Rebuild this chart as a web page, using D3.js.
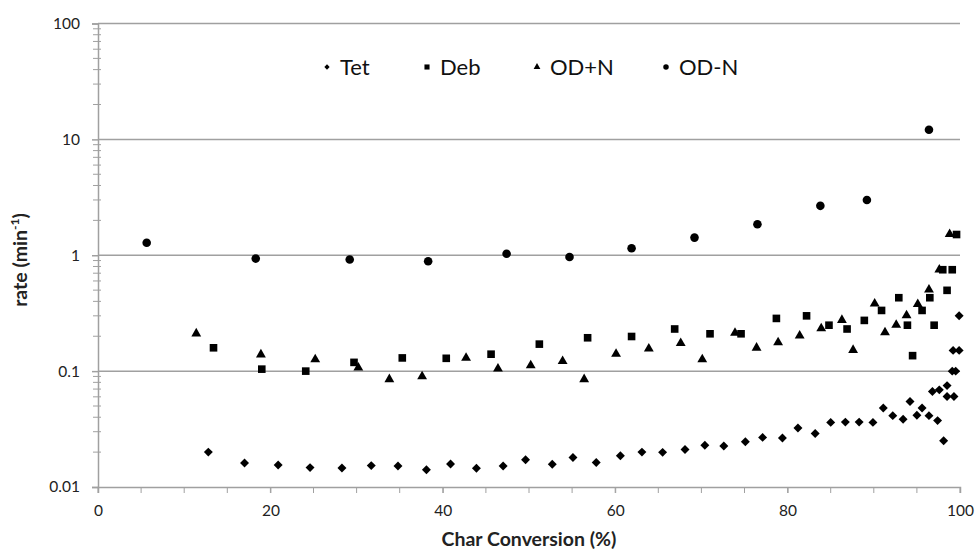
<!DOCTYPE html>
<html><head><meta charset="utf-8">
<script src="https://cdn.jsdelivr.net/npm/d3@7"></script>
<style>body{margin:0;background:#fff;}svg{display:block;font-family:Lato,"Open Sans",sans-serif;}</style>
</head><body><svg id="c" width="976" height="551"></svg>
<script>
const seriesNames = ["Tet","Deb","OD+N","OD-N"];
const tetX = [12.8,17.0,20.9,24.6,28.3,31.7,34.8,38.1,40.9,43.9,47.0,49.6,52.7,55.1,57.8,60.6,63.1,65.5,68.1,70.4,72.6,75.1,77.1,79.4,81.2,83.2,85.0,86.7,88.3,89.9,91.1,92.2,93.4,94.2,95.0,95.6,96.4,96.8,97.4,97.6,98.1,98.5,98.5,99.3,99.1,99.5,99.2,99.9,99.9];
const tetY = [0.020,0.0161,0.0155,0.0147,0.0146,0.0153,0.0152,0.0141,0.0158,0.0145,0.0152,0.0172,0.0157,0.018,0.0163,0.0186,0.020,0.0199,0.0211,0.0229,0.0226,0.0246,0.0268,0.0265,0.0323,0.029,0.0361,0.0363,0.0363,0.0361,0.0481,0.0413,0.0384,0.0546,0.0416,0.0481,0.0413,0.0668,0.0374,0.0689,0.0251,0.075,0.0603,0.0603,0.1,0.1,0.151,0.151,0.30];
const debX = [13.4,19.0,24.1,29.7,35.3,40.4,45.6,51.2,56.8,61.9,66.9,71.0,74.6,78.7,82.2,84.8,86.9,88.9,90.9,92.9,93.9,94.5,95.6,96.5,97.0,98.0,98.5,99.1,99.6];
const debY = [0.159,0.104,0.100,0.119,0.130,0.129,0.140,0.171,0.194,0.199,0.231,0.210,0.210,0.285,0.300,0.249,0.231,0.274,0.334,0.43,0.249,0.136,0.334,0.43,0.249,0.75,0.498,0.75,1.51];
const odpX = [11.4,18.9,25.2,30.2,33.8,37.6,42.7,46.4,50.2,53.9,56.4,60.1,63.9,67.6,70.1,73.9,76.4,78.9,81.4,83.9,86.3,87.6,90.1,91.3,92.6,93.8,95.1,96.4,97.6,98.8];
const odpY = [0.211,0.139,0.126,0.107,0.085,0.090,0.130,0.105,0.112,0.122,0.085,0.141,0.156,0.174,0.126,0.214,0.159,0.177,0.202,0.234,0.276,0.152,0.382,0.216,0.251,0.303,0.379,0.505,0.75,1.52];
const odmX = [5.65,18.3,29.2,38.3,47.4,54.7,61.9,69.2,76.5,83.8,89.2,96.4];
const odmY = [1.28,0.936,0.92,0.887,1.03,0.967,1.15,1.42,1.85,2.67,3.0,12.1];
const xTicks = [0,20,40,60,80,100];
const yTicks = [0.01,0.1,1,10,100];
const yTickLabels = ["0.01","0.1","1","10","100"];

const svg = d3.select("#c");
const x = d3.scaleLinear().domain([0,100]).range([98,960]);
const y = d3.scaleLog().domain([0.01,100]).range([487,23.5]);
const grid = "#a0a0a0";
const FONT = "Lato,'Open Sans',sans-serif";

// gridlines
svg.append("g").selectAll("line").data(yTicks.slice(1)).join("line")
  .attr("x1",x(0)).attr("x2",x(100)).attr("y1",d=>y(d)).attr("y2",d=>y(d))
  .attr("stroke",grid).attr("stroke-width",1.5);

// y minor ticks
const minor = [];
for (let e=-2;e<2;e++) for (let m=2;m<10;m++) minor.push(m*Math.pow(10,e));
svg.append("g").selectAll("line").data(minor).join("line")
  .attr("x1",x(0)-5).attr("x2",x(0)+3).attr("y1",d=>y(d)).attr("y2",d=>y(d))
  .attr("stroke",grid).attr("stroke-width",1);

// y axis
const yAxis = d3.axisLeft(y).tickValues(yTicks).tickFormat((d,i)=>yTickLabels[i]).tickSize(6).tickPadding(12);
const gy = svg.append("g").attr("transform",`translate(${x(0)},0)`).call(yAxis);
gy.select(".domain").attr("stroke",grid).attr("stroke-width",1.5);
gy.selectAll(".tick line").attr("stroke",grid).attr("stroke-width",1.5);
gy.selectAll("text").attr("font-size",15.5).attr("fill","#222").attr("font-family",FONT);

// x minor ticks
svg.append("g").selectAll("line").data(d3.range(0,101,5)).join("line")
  .attr("x1",d=>x(d)).attr("x2",d=>x(d)).attr("y1",y(0.01)).attr("y2",y(0.01)+6)
  .attr("stroke",grid).attr("stroke-width",1);
// x axis
const xAxis = d3.axisBottom(x).tickValues(xTicks).tickSize(6).tickPadding(12);
const gx = svg.append("g").attr("transform",`translate(0,${y(0.01)})`).call(xAxis);
gx.select(".domain").attr("stroke",grid).attr("stroke-width",1.5);
gx.selectAll(".tick line").attr("stroke",grid).attr("stroke-width",1);
gx.selectAll("text").attr("font-size",15.5).attr("fill","#222").attr("font-family",FONT);

// titles
svg.append("text").attr("x",529).attr("y",546).attr("text-anchor","middle")
  .attr("font-size",19.5).attr("font-weight","bold").attr("fill","#222").text("Char Conversion (%)");
const yt = svg.append("text").attr("transform","translate(27,260) rotate(-90)").attr("text-anchor","middle")
  .attr("font-size",19.5).attr("font-weight","bold").attr("fill","#222");
yt.append("tspan").text("rate (min");
yt.append("tspan").attr("font-size",12).attr("dy",-8).text("-1");
yt.append("tspan").attr("dy",8).text(")");

// markers
const diamondSq = d3.symbol().type(d3.symbolSquare).size(40);
const series = [
  {name:"Tet", xs:tetX, ys:tetY, path:diamondSq, rot:45},
  {name:"Deb", xs:debX, ys:debY, path:d3.symbol().type(d3.symbolSquare).size(58), rot:0},
  {name:"OD+N", xs:odpX, ys:odpY, path:d3.symbol().type(d3.symbolTriangle).size(42), rot:0},
  {name:"OD-N", xs:odmX, ys:odmY, path:d3.symbol().type(d3.symbolCircle).size(58), rot:0}
];
series.forEach(s=>{
  svg.append("g").selectAll("path").data(s.xs.map((v,i)=>[v,s.ys[i]])).join("path")
    .attr("d",s.path).attr("transform",d=>`translate(${x(d[0])},${y(d[1])}) rotate(${s.rot})`).attr("fill","#000");
});

// legend
const legX = [327,427,537,666];
const legSyms = [d3.symbol().type(d3.symbolSquare).size(14), d3.symbol().type(d3.symbolSquare).size(26), d3.symbol().type(d3.symbolTriangle).size(20), d3.symbol().type(d3.symbolCircle).size(24)];
const legRot = [45,0,0,0];
const leg = svg.append("g");
seriesNames.forEach((n,i)=>{
  leg.append("path").attr("d",legSyms[i]).attr("transform",`translate(${legX[i]},67) rotate(${legRot[i]})`).attr("fill","#000");
  leg.append("text").attr("x",legX[i]+13).attr("y",75).attr("font-size",22).attr("fill","#111").text(n);
});
</script></body></html>
